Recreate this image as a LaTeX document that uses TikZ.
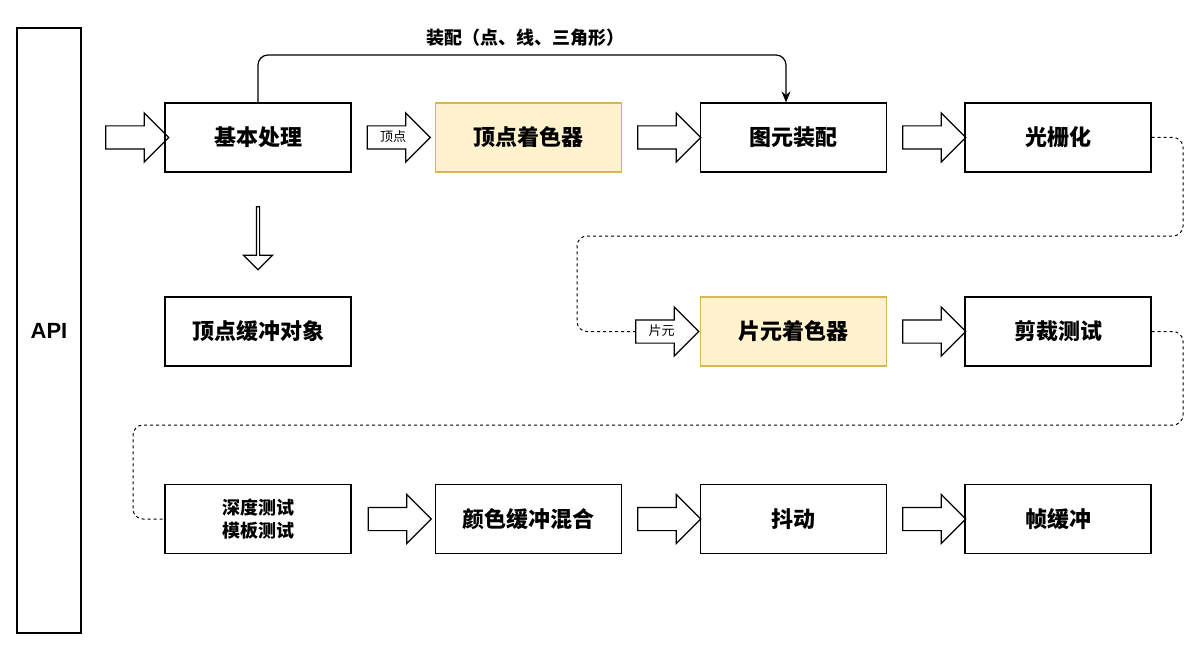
\documentclass[tikz,border=0pt]{standalone}
\usepackage{fontspec}
\setmainfont{Noto Sans CJK SC}
\newfontfamily\apifont{Liberation Sans}
\usetikzlibrary{shapes.arrows,arrows.meta}
\definecolor{shaderfill}{HTML}{FFF2CC}
\definecolor{shaderline}{HTML}{D6B656}
\tikzset{
  stage/.style={draw, line width=1.2pt, minimum width=186pt, minimum height=69pt, font=\fontsize{22}{26}\selectfont\bfseries},
  shader/.style={stage, fill=shaderfill, draw=shaderline},
  fat/.style={draw, line width=1.2pt, single arrow, single arrow head extend=13pt, single arrow head indent=0pt, minimum height=63pt, text height=10pt, text depth=2pt, inner ysep=5pt, inner xsep=1pt, font=\fontsize{13}{14}\selectfont},
  loop/.style={draw, dashed, line width=1pt, rounded corners=10pt}
}
\begin{document}
\begin{tikzpicture}[x=1pt,y=-1pt]
    \useasboundingbox (0,0) rectangle (1200,650);
    % left column
    \node[draw, line width=1.2pt, minimum width=64pt, minimum height=605pt, font=\apifont\fontsize{22}{26}\selectfont\bfseries] (api) at (49,330.5) {API};
    % first row
    \node[stage] (basic) at (258,137.5) {基本处理};
    \node[shader] (vshader) at (528.5,137.5) {顶点着色器};
    \node[stage] (assembly) at (793.5,137.5) {图元装配};
    \node[stage] (raster) at (1058,137.5) {光栅化};
    \node[stage] (vbo) at (258,331.5) {顶点缓冲对象};
    % second row
    \node[shader] (fshader) at (793.5,331.5) {片元着色器};
    \node[stage] (clip) at (1058,331.5) {剪裁测试};
    % third row
    \node[stage, align=center, font=\fontsize{18}{23}\selectfont\bfseries] (depth) at (258,519) {深度测试\\模板测试};
    \node[stage] (blend) at (528.5,519) {颜色缓冲混合};
    \node[stage] (dither) at (793.5,519) {抖动};
    \node[stage] (frame) at (1058,519) {帧缓冲};
    % fat arrows
    \node[fat] (a1) at (131.5,137.5) {};
    \node[fat] (a2) at (393,137.5) {顶点};
    \node[fat] (a3) at (663.5,137.5) {};
    \node[fat] (a4) at (928.5,137.5) {};
    \node[fat, shape border rotate=270] (a5) at (258,237.5) {};
    \node[fat] (a6) at (661.5,331.5) {片元};
    \node[fat] (a7) at (928.5,331.5) {};
    \node[fat] (a8) at (394,519) {};
    \node[fat] (a9) at (663.5,519) {};
    \node[fat] (a10) at (928.5,519) {};
    % connectors
    \coordinate (top) at (786,55);
    \draw[line width=1.2pt, rounded corners=10pt, -{Stealth[length=11pt,width=9pt]}] (basic.north) |- (top) -- (top |- assembly.north);
    \node[font=\fontsize{18}{22}\selectfont\bfseries] (asmlabel) at (525,38) {装配（点、线、三角形）};
    \draw[loop] (raster.east) -| (1183,236) -| (577,331.5) -- (a6.west);
    \draw[loop] (clip.east) -| (1183,425) -| (133,519) -- (depth.west);
\end{tikzpicture}
\end{document}
